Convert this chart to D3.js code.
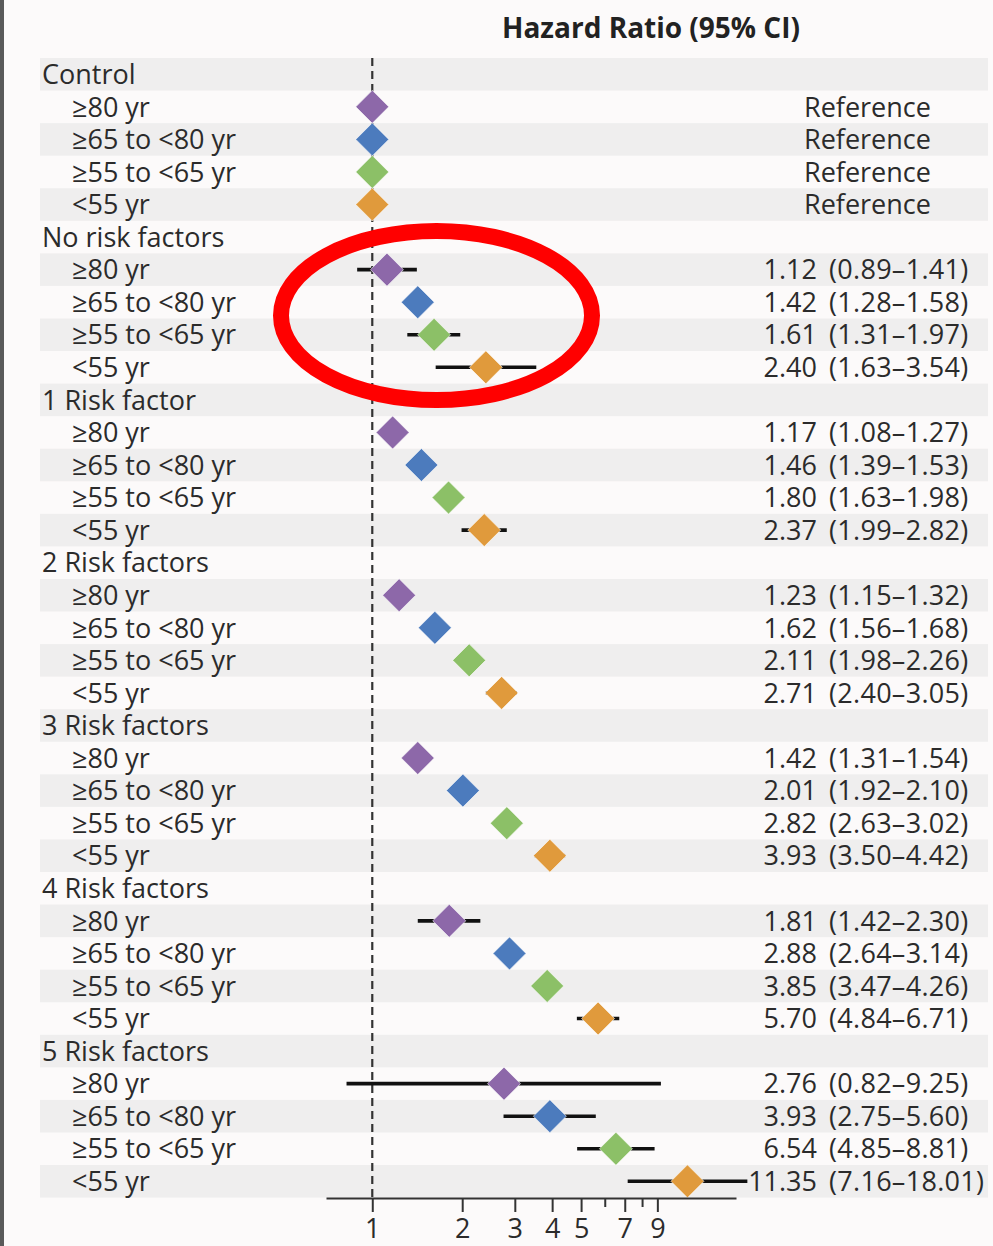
<!DOCTYPE html>
<html>
<head>
<meta charset="utf-8">
<script src="https://cdn.jsdelivr.net/npm/d3@7"></script>
<style>
  html, body { margin: 0; padding: 0; background: #fcfafa; }
  svg { display: block; }
  text { font-family: "Open Sans", sans-serif; fill: #2b2b2b; }
</style>
</head>
<body>
<svg id="chart" width="993" height="1246"></svg>
<script>
// Risk-factor groups and the age bands shown under each
const groups = ["Control", "No risk factors", "1 Risk factor", "2 Risk factors",
                "3 Risk factors", "4 Risk factors", "5 Risk factors"];
const ageBands = ["\u226580 yr", "\u226565 to <80 yr", "\u226555 to <65 yr", "<55 yr"];
const bandColors = ["#8d68a9", "#4c7bbd", "#8cc067", "#e09a3c"];

// Hazard ratios, lower and upper 95% limits (per group, per age band)
const hr = [
  [1, 1, 1, 1],
  [1.12, 1.42, 1.61, 2.40],
  [1.17, 1.46, 1.80, 2.37],
  [1.23, 1.62, 2.11, 2.71],
  [1.42, 2.01, 2.82, 3.93],
  [1.81, 2.88, 3.85, 5.70],
  [2.76, 3.93, 6.54, 11.35]
];
const lower = [
  [null, null, null, null],
  [0.89, 1.28, 1.31, 1.63],
  [1.08, 1.39, 1.63, 1.99],
  [1.15, 1.56, 1.98, 2.40],
  [1.31, 1.92, 2.63, 3.50],
  [1.42, 2.64, 3.47, 4.84],
  [0.82, 2.75, 4.85, 7.16]
];
const upper = [
  [null, null, null, null],
  [1.41, 1.58, 1.97, 3.54],
  [1.27, 1.53, 1.98, 2.82],
  [1.32, 1.68, 2.26, 3.05],
  [1.54, 2.10, 3.02, 4.42],
  [2.30, 3.14, 4.26, 6.71],
  [9.25, 5.60, 8.81, 18.01]
];
const axisTicks = [1, 2, 3, 4, 5, 6, 7, 8, 9];
const labelledTicks = [1, 2, 3, 4, 5, 7, 9];
const titleText = "Hazard Ratio (95% CI)";

const fmt = d3.format(".2f");

// Flatten into display rows: a header per group followed by its age bands
const rows = [];
groups.forEach((g, gi) => {
  rows.push({ type: "header", label: g });
  ageBands.forEach((a, ai) => {
    const isRef = lower[gi][ai] === null;
    rows.push({
      type: "item", label: a, color: bandColors[ai],
      hr: hr[gi][ai], lo: lower[gi][ai], hi: upper[gi][ai], isRef
    });
  });
});

const svg = d3.select("#chart");

// Layout
const rowTop = 58, rowH = 32.56;
const axisY = 1198;
const fontSize = 27;
const y = i => rowTop + rowH * i + rowH / 2;
const x = d3.scaleLog().domain([0.70, 16.5]).range([326, 736]);

// Dark page edge on the left
svg.append("rect").attr("x", 0).attr("y", 0).attr("width", 4).attr("height", 1246).attr("fill", "#5a5a5a");

// Alternating row bands
svg.append("g").selectAll("rect")
  .data(rows)
  .join("rect")
  .attr("x", 40).attr("width", 948)
  .attr("y", (d, i) => rowTop + rowH * i)
  .attr("height", rowH)
  .attr("fill", (d, i) => i % 2 === 0 ? "#efeeee" : "none");

// Title
svg.append("text")
  .attr("x", 651).attr("y", 38)
  .attr("text-anchor", "middle")
  .attr("font-weight", "bold")
  .attr("font-size", 28)
  .style("fill", "#222")
  .text(titleText);

// Reference line at HR = 1
svg.append("line")
  .attr("x1", x(1)).attr("x2", x(1))
  .attr("y1", rowTop).attr("y2", axisY)
  .attr("stroke", "#333").attr("stroke-width", 2.2)
  .attr("stroke-dasharray", "8,5");

// Row labels
svg.append("g").selectAll("text")
  .data(rows)
  .join("text")
  .attr("x", d => d.type === "header" ? 42 : 72)
  .attr("y", (d, i) => y(i))
  .attr("dy", "0.36em")
  .attr("font-size", fontSize)
  .text(d => d.label);

const items = rows.map((d, i) => ({ ...d, i })).filter(d => d.type === "item");

// Confidence interval whiskers
svg.append("g").selectAll("line")
  .data(items.filter(d => !d.isRef))
  .join("line")
  .attr("x1", d => x(d.lo)).attr("x2", d => x(d.hi))
  .attr("y1", d => y(d.i)).attr("y2", d => y(d.i))
  .attr("stroke", "#111").attr("stroke-width", 3.6);

// Point estimates as diamonds
const s = 16.5;
svg.append("g").selectAll("path")
  .data(items)
  .join("path")
  .attr("transform", d => `translate(${x(d.hr)},${y(d.i)})`)
  .attr("d", `M0,${-s}L${s},0L0,${s}L${-s},0Z`)
  .attr("fill", d => d.color)
  .attr("stroke", "#ffffff").attr("stroke-opacity", 0.6).attr("stroke-width", 1);

// Estimate text: HR right-aligned before the bracket, CI after it
const valG = svg.append("g").attr("font-size", fontSize);
items.forEach(d => {
  if (d.isRef) {
    valG.append("text").attr("x", 804).attr("y", y(d.i)).attr("dy", "0.36em").text("Reference");
  } else {
    valG.append("text").attr("x", 817).attr("y", y(d.i)).attr("dy", "0.36em")
      .attr("text-anchor", "end").text(fmt(d.hr));
    valG.append("text").attr("x", 829).attr("y", y(d.i)).attr("dy", "0.36em")
      .attr("letter-spacing", 0.3)
      .text(`(${fmt(d.lo)}\u2013${fmt(d.hi)})`);
  }
});

// Log axis with minor ticks at 6 and 8
const axis = d3.axisBottom(x)
  .tickValues(axisTicks)
  .tickSize(14)
  .tickSizeOuter(0)
  .tickPadding(7)
  .tickFormat(v => labelledTicks.includes(v) ? String(v) : "");
const axG = svg.append("g").attr("transform", `translate(0,${axisY})`).call(axis);
axG.select(".domain").attr("stroke", "#333").attr("stroke-width", 2);
axG.selectAll(".tick line").attr("stroke", "#333").attr("stroke-width", 2)
  .attr("y2", v => labelledTicks.includes(v) ? 14 : 9);
axG.selectAll(".tick text").attr("font-size", fontSize).attr("font-family", "Open Sans").style("fill", "#2b2b2b");

// Highlight ring around the no-risk-factor group
svg.append("ellipse")
  .attr("cx", 436.5).attr("cy", 315.5)
  .attr("rx", 155.5).attr("ry", 84.5)
  .attr("fill", "none").attr("stroke", "#ff0000").attr("stroke-width", 16);
</script>
</body>
</html>
